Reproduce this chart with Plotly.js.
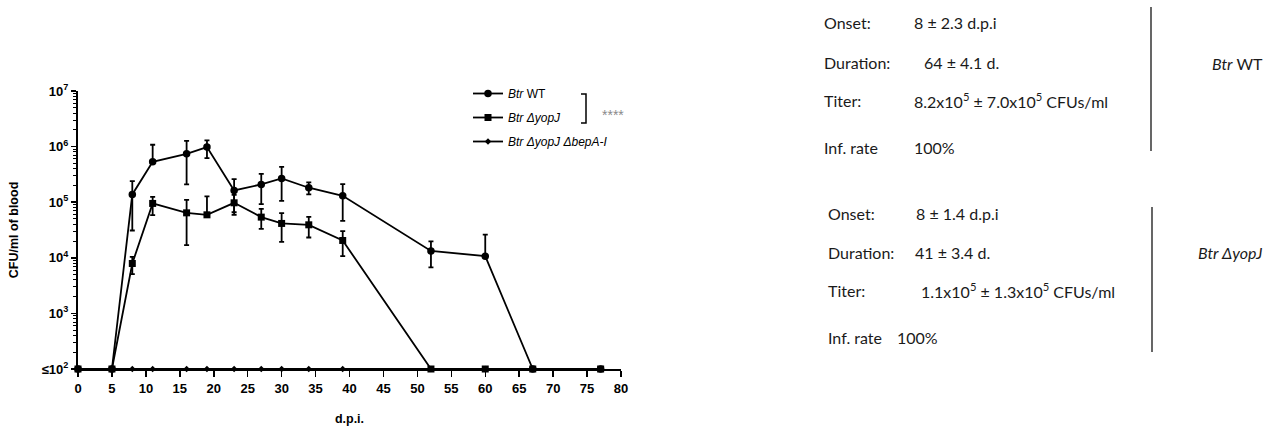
<!DOCTYPE html>
<html>
<head>
<meta charset="utf-8">
<script src="https://cdn.plot.ly/plotly-3.0.1.min.js"></script>
<style>html,body{margin:0;padding:0;background:#fff;}#chart{width:1269px;height:426px;}</style>
</head>
<body>
<div id="chart"></div>
<script>
// ---- data ----
const days = [0, 5, 8, 11, 16, 19, 23, 27, 30, 34, 39, 52, 60, 67, 77];

const wtMean = [100, 100, 1.38e5, 5.33e5, 7.43e5, 9.8e5, 1.63e5, 2.09e5, 2.68e5, 1.82e5, 1.3e5, 1.33e4, 1.07e4, 100, 100];
const wtHigh = [100, 100, 2.4e5, 1.08e6, 1.27e6, 1.29e6, 2.6e5, 3.24e5, 4.33e5, 2.27e5, 2.12e5, 1.97e4, 2.62e4, 100, 100];
const wtLow  = [100, 100, 3.1e4, 5.33e5, 2.09e5, 6.2e5, 6.6e4, 9.2e4, 1.06e5, 1.38e5, 4.62e4, 6.7e3, 1.07e4, 100, 100];

const koMean = [100, 100, 7.9e3, 9.5e4, 6.44e4, 5.93e4, 9.75e4, 5.39e4, 4.15e4, 3.92e4, 2.05e4, 100, 100, 100, 100];
const koHigh = [100, 100, 1.04e4, 1.25e5, 1.1e5, 1.27e5, 1.36e5, 7.6e4, 6.36e4, 5.46e4, 3.01e4, 100, 100, 100, 100];
const koLow  = [100, 100, 5.07e3, 5.85e4, 1.69e4, 5.93e4, 5.93e4, 3.32e4, 1.94e4, 2.32e4, 1.07e4, 100, 100, 100, 100];

const tripleMean = [100, 100, 100, 100, 100, 100, 100, 100, 100, 100, 100, 100, 100, 100, 100];

const seriesNames = ["<i>Btr</i> WT", "<i>Btr ΔyopJ</i>", "<i>Btr ΔyopJ ΔbepA-I</i>"];
const yTickVals = [1e2, 1e3, 1e4, 1e5, 1e6, 1e7];
const yTickText = ["≤10<sup>2</sup>", "10<sup>3</sup>", "10<sup>4</sup>", "10<sup>5</sup>", "10<sup>6</sup>", "10<sup>7</sup>"];
const xTickVals = [0,5,10,15,20,25,30,35,40,45,50,55,60,65,70,75,80];

// minor log ticks (2..9 per decade)
const yMinorVals = [];
for (let k = 2; k < 7; k++) for (let d = 2; d <= 9; d++) yMinorVals.push(d * Math.pow(10, k));

// ---- pixel helpers for the plot frame ----
const X0 = 78, X1 = 621, Y0 = 91, Y1 = 369;
const px = x => (x - X0) / (X1 - X0);
const py = y => (Y1 - y) / (Y1 - Y0);

function errs(mean, hi, lo) {
  return {
    type: 'data', symmetric: false,
    array: hi.map((h, i) => h - mean[i]),
    arrayminus: lo.map((l, i) => mean[i] - l),
    color: '#000', thickness: 1.8, width: 2.5
  };
}

const traces = [
  {
    x: days, y: tripleMean, name: seriesNames[2], type: 'scatter', mode: 'lines+markers',
    line: {color: '#000', width: 1.8}, marker: {symbol: 'diamond', size: 5, color: '#000'},
    cliponaxis: false, legendrank: 3, legendgroup: 'c'
  },
  {
    x: days, y: koMean, name: seriesNames[1], type: 'scatter', mode: 'lines+markers',
    line: {color: '#000', width: 1.8}, marker: {symbol: 'square', size: 7, color: '#000'},
    error_y: errs(koMean, koHigh, koLow), cliponaxis: false, legendrank: 2, legendgroup: 'b'
  },
  {
    x: days, y: wtMean, name: seriesNames[0], type: 'scatter', mode: 'lines+markers',
    line: {color: '#000', width: 1.8}, marker: {symbol: 'circle', size: 7.5, color: '#000'},
    error_y: errs(wtMean, wtHigh, wtLow), cliponaxis: false, legendrank: 1, legendgroup: 'a'
  }
];

const txtFont = {family: 'Lato, "Open Sans", sans-serif', size: 16, color: '#1a1a1a'};
function txt(x, y, t, anchor) {
  return {xref: 'paper', yref: 'paper', x: px(x), y: py(y), text: t, showarrow: false,
          xanchor: anchor || 'left', yanchor: 'middle', font: txtFont};
}

const annotations = [
  {xref: 'paper', yref: 'paper', x: px(600), y: py(115), text: '****', showarrow: false,
   xanchor: 'left', yanchor: 'middle', font: {family: '"Liberation Sans", Arial', size: 14, color: '#8a8a8a'}},
  txt(822, 23, 'Onset:'), txt(912, 23, '8 ± 2.3 d.p.i'),
  txt(822, 63, 'Duration:'), txt(922, 63, '64 ± 4.1 d.'),
  txt(822, 100, 'Titer:'), txt(912, 100, '8.2x10<sup>5</sup> ± 7.0x10<sup>5</sup> CFUs/ml'),
  txt(822, 147, 'Inf. rate'), txt(912, 147, '100%'),
  txt(1237, 64, '<i>Btr</i> WT', 'center'),
  txt(826, 213, 'Onset:'), txt(914, 213, '8 ± 1.4 d.p.i'),
  txt(826, 253, 'Duration:'), txt(913, 253, '41 ± 3.4 d.'),
  txt(826, 290, 'Titer:'), txt(919, 290, '1.1x10<sup>5</sup> ± 1.3x10<sup>5</sup> CFUs/ml'),
  txt(826, 337, 'Inf. rate'), txt(895, 337, '100%'),
  txt(1230, 252, '<i>Btr ΔyopJ</i>', 'center')
];

const shapes = [
  {type: 'path', xref: 'paper', yref: 'paper',
   path: `M ${px(581)},${py(94)} L ${px(586)},${py(94)} L ${px(586)},${py(123)} L ${px(581)},${py(123)}`,
   line: {color: '#000', width: 1.5}},
  {type: 'line', xref: 'paper', yref: 'paper', x0: px(1151), x1: px(1151), y0: py(7), y1: py(151),
   line: {color: '#000', width: 1.2}},
  {type: 'line', xref: 'paper', yref: 'paper', x0: px(1152), x1: px(1152), y0: py(207), y1: py(352),
   line: {color: '#000', width: 1.2}}
];

const tickFont = {family: '"Liberation Sans", Arial, sans-serif', size: 13, color: '#000', weight: 'bold'};
const titleFont = {family: '"Liberation Sans", Arial, sans-serif', size: 12.5, color: '#000', weight: 'bold'};

const layout = {
  width: 1269, height: 426,
  margin: {l: X0, r: 1269 - X1, t: Y0, b: 426 - Y1, pad: 0},
  paper_bgcolor: '#fff', plot_bgcolor: '#fff',
  showlegend: true,
  legend: {x: px(468), y: py(79), xanchor: 'left', yanchor: 'top', bgcolor: 'rgba(0,0,0,0)',
           font: {family: '"Liberation Sans", Arial, sans-serif', size: 12, color: '#000'},
           itemwidth: 30, tracegroupgap: 5, traceorder: 'grouped'},
  xaxis: {
    range: [0, 80], tickvals: xTickVals, ticks: 'outside', ticklen: 6, tickwidth: 1.5, tickcolor: '#000',
    showline: true, linecolor: '#000', linewidth: 2, showgrid: false, zeroline: false,
    tickfont: tickFont, title: {text: 'd.p.i.', font: titleFont, standoff: 20}
  },
  yaxis: {
    type: 'log', range: [2, 7], tickvals: yTickVals, ticktext: yTickText,
    ticks: 'outside', ticklen: 5, tickwidth: 1.5, tickcolor: '#000',
    minor: {tickmode: 'array', tickvals: yMinorVals, ticks: 'outside', ticklen: 3, tickwidth: 1, tickcolor: '#000', showgrid: false},
    showline: true, linecolor: '#000', linewidth: 2, showgrid: false, zeroline: false,
    tickfont: tickFont, title: {text: 'CFU/ml of blood', font: titleFont, standoff: 20}
  },
  annotations: annotations,
  shapes: shapes
};

Plotly.newPlot('chart', traces, layout, {displayModeBar: false, staticPlot: true});
</script>
</body>
</html>
